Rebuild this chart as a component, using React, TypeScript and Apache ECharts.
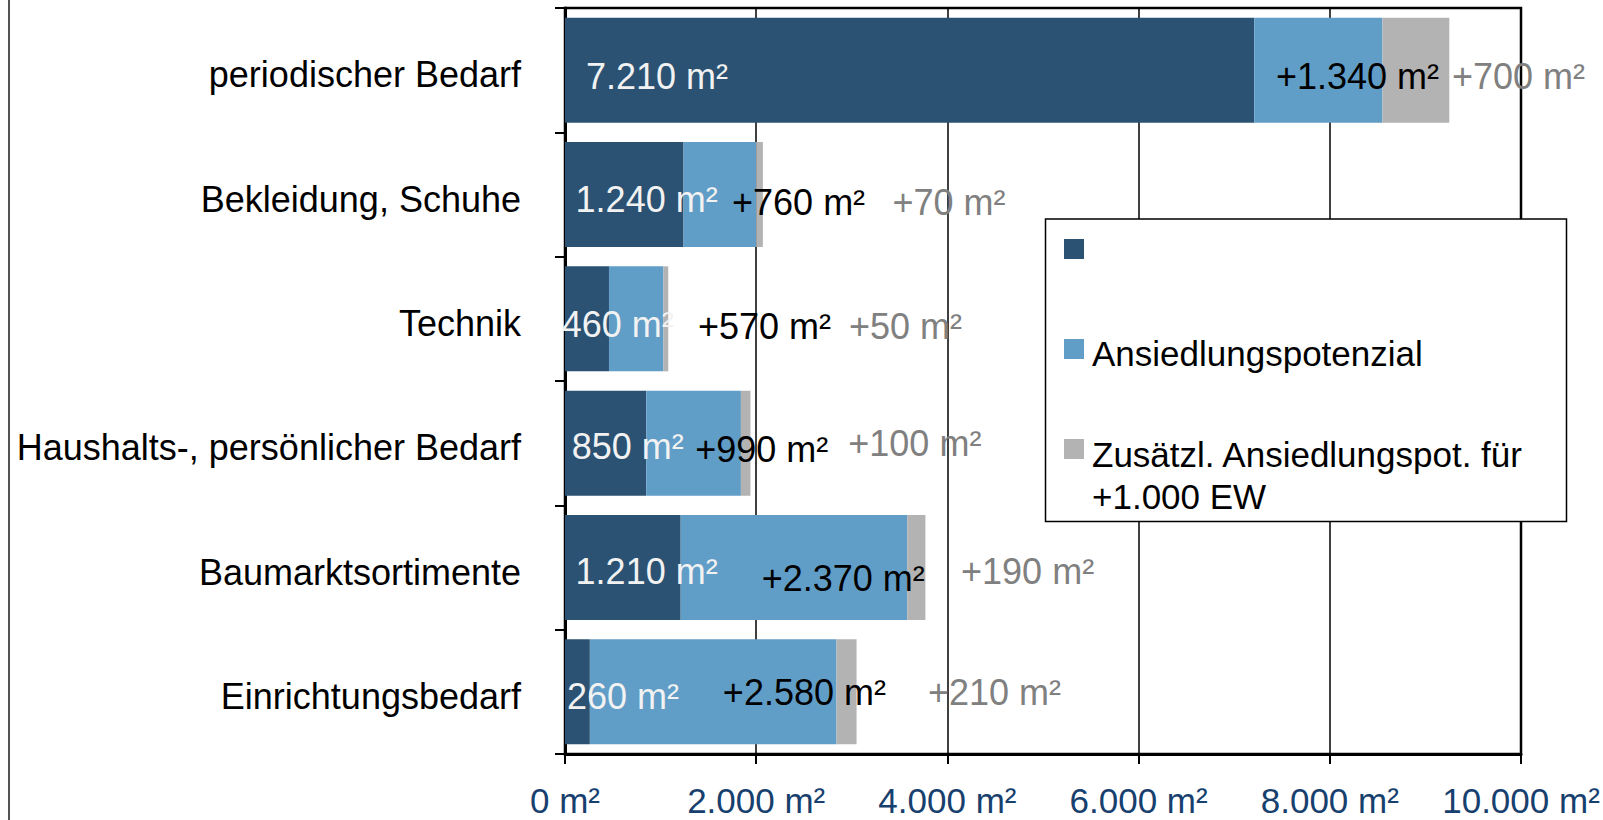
import React, { useEffect, useRef } from "react";
import * as echarts from "echarts";

// ---- data ----
const categories = [
  "periodischer Bedarf",
  "Bekleidung, Schuhe",
  "Technik",
  "Haushalts-, persönlicher Bedarf",
  "Baumarktsortimente",
  "Einrichtungsbedarf",
];
const bestand = [7210, 1240, 460, 850, 1210, 260];
const potenzial = [1340, 760, 570, 990, 2370, 2580];
const zusatz = [700, 70, 50, 100, 190, 210];

const seriesNames = [" ", "Ansiedlungspotenzial", "Zusätzl. Ansiedlungspot. für +1.000 EW"];
const legendLines = [[" "], ["Ansiedlungspotenzial"], ["Zusätzl. Ansiedlungspot. für", "+1.000 EW"]];

const axisMin = 0;
const axisMax = 10000;
const axisStep = 2000;

// label placement (pixels relative to each segment's start / centre)
const darkLabelDx = [21, 10.6, -3.3, 6.7, 10.6, 2];
const darkLabelDy = [6.5, 4.5, 6, 3.5, 4, 4.5];
const lightLabelDx = [21.7, 48.5, 89, 49, 81, 133];
const lightLabelDy = [6.5, 8, 8, 6.7, 11, 0.5];
const grayLabelDx = [69.6, 136.3, 185.5, 107.4, 53.8, 91.5];
const grayLabelDy = [6.5, 8, 8, 0.5, 4, 0.5];

const FONT = '"Liberation Sans", Arial, sans-serif';
const DARK = "#2b5273";
const LIGHT = "#609dc7";
const GRAY = "#b3b3b3";

const fmt = (n: number) => String(n).replace(/\B(?=(\d{3})+(?!\d))/g, ".");

function mkSeries(
  name: string,
  values: number[],
  color: string,
  textColor: string,
  dx: number[],
  dy: number[],
  prefix: string
) {
  return {
    name,
    type: "bar",
    stack: "total",
    barCategoryGap: "15.5%",
    itemStyle: { color },
    label: {
      show: true,
      color: textColor,
      fontSize: 36,
      fontFamily: FONT,
      align: "left",
      verticalAlign: "middle",
      formatter: (p: any) => prefix + fmt(p.value) + " m²",
    },
    emphasis: { disabled: true },
    data: values.map((v, i) => ({
      value: v,
      label: { position: [dx[i], "50%"], offset: [0, dy[i]] },
    })),
  };
}

// spacer line pushes the first text line down so it sits level with the icon
function mkLegend(i: number, iconTop: number, spacer: number, lineH: number) {
  const lines = legendLines[i];
  const blockH = spacer + lineH * lines.length;
  const boundTop = Math.min(0, 10 - blockH / 2); // relative to icon top (itemHeight 20)
  return {
    show: true,
    orient: "vertical",
    left: 1064,
    top: iconTop + boundTop,
    padding: 0,
    itemWidth: 20,
    itemHeight: 20,
    icon: "rect",
    z: 20,
    selectedMode: false,
    data: [seriesNames[i]],
    formatter: () => "{s| }\n" + lines.map((l) => "{t|" + l + "}").join("\n"),
    textStyle: {
      color: "#000",
      fontSize: 35,
      fontFamily: FONT,
      padding: [0, 0, 0, 3],
      rich: {
        s: { fontSize: spacer, lineHeight: spacer },
        t: { fontSize: 35, lineHeight: lineH, fontFamily: FONT, color: "#000" },
      },
    },
  };
}

export default function App() {
  const ref = useRef<HTMLDivElement>(null);
  useEffect(() => {
    if (!ref.current) return;
    const chart = echarts.init(ref.current, undefined, { renderer: "svg" });
    chart.setOption({
      animation: false,
      backgroundColor: "#fff",
      grid: {
        left: 565,
        right: 82,
        top: 8,
        bottom: 66,
        show: true,
        borderColor: "#000",
        borderWidth: 2.5,
        backgroundColor: "transparent",
      },
      xAxis: {
        type: "value",
        min: axisMin,
        max: axisMax,
        interval: axisStep,
        axisLine: { show: true, lineStyle: { color: "#000", width: 3 } },
        axisTick: { show: true, length: 10, lineStyle: { color: "#000", width: 2 } },
        splitLine: { show: true, lineStyle: { color: "#000", width: 1.5 } },
        axisLabel: {
          color: "#17406e",
          fontSize: 35,
          lineHeight: 30,
          fontFamily: FONT,
          margin: 31,
          formatter: (v: number) => fmt(v) + " m²",
        },
      },
      yAxis: {
        type: "category",
        data: categories,
        inverse: true,
        axisLine: { show: true, lineStyle: { color: "#000", width: 3 } },
        axisTick: { show: true, length: 10, interval: 0, lineStyle: { color: "#000", width: 2 } },
        axisLabel: {
          color: "#000",
          fontSize: 36,
          fontFamily: FONT,
          margin: 44,
          interval: 0,
          verticalAlign: "top",
          lineHeight: 9,
        },
      },
      legend: [
        mkLegend(0, 239, 9, 20),
        mkLegend(1, 339, 9, 20),
        mkLegend(2, 439, 53, 42),
      ],
      graphic: [
        {
          type: "rect",
          z: 10,
          shape: { x: 1045.5, y: 219, width: 521, height: 302.5 },
          style: { fill: "#fff", stroke: "#000", lineWidth: 1.5 },
        },
        {
          type: "line",
          z: 10,
          shape: { x1: 9, y1: 0, x2: 9, y2: 820 },
          style: { stroke: "#1a1a1a", lineWidth: 1.5 },
        },
      ],
      series: [
        mkSeries(seriesNames[0], bestand, DARK, "#f2f2f2", darkLabelDx, darkLabelDy, ""),
        mkSeries(seriesNames[1], potenzial, LIGHT, "#000", lightLabelDx, lightLabelDy, "+"),
        mkSeries(seriesNames[2], zusatz, GRAY, "#808080", grayLabelDx, grayLabelDy, "+"),
      ],
    });
    return () => chart.dispose();
  }, []);
  return (
    <div
      ref={ref}
      style={{ position: "fixed", left: 0, top: 0, width: 1603, height: 820 }}
    />
  );
}
